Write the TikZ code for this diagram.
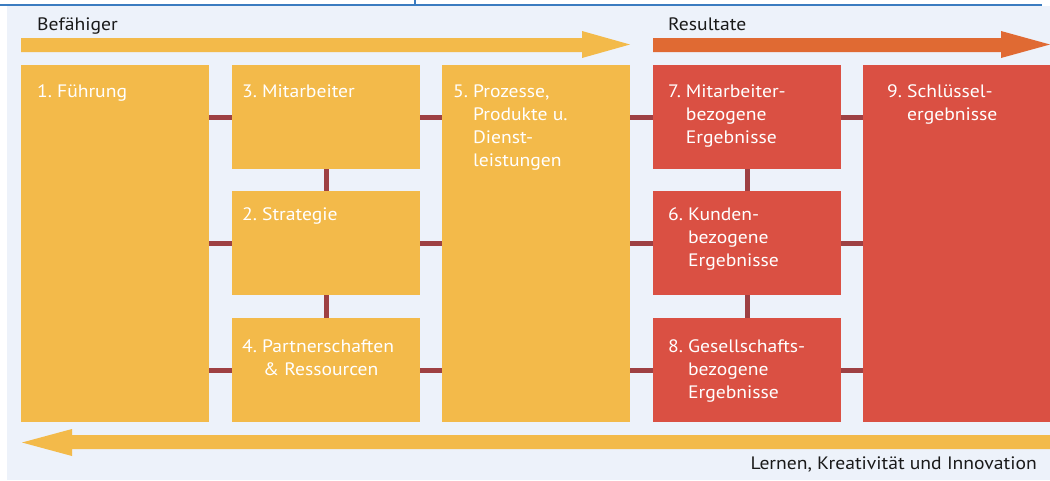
\documentclass[tikz,border=0pt]{standalone}
\usepackage{fontspec}
\setmainfont[FakeStretch=1.09]{PT Sans}
\definecolor{bgblue}{HTML}{EDF2FA}
\definecolor{lineblue}{HTML}{3B7CC0}
\definecolor{ayellow}{HTML}{F3BA4A}
\definecolor{aorange}{HTML}{E06A33}
\definecolor{ared}{HTML}{DA5043}
\definecolor{conncol}{HTML}{9E4043}
\definecolor{darktext}{HTML}{1A1A1A}
\tikzset{
  ybox/.style={fill=ayellow, draw=none, anchor=north west, minimum width=188pt, inner sep=0pt},
  rbox/.style={fill=ared, draw=none, anchor=north west, minimum width=188pt, inner sep=0pt},
  short/.style={minimum height=104pt},
  tall/.style={minimum height=357pt},
  boxtext/.style={anchor=base west, inner sep=0pt, text=white, font=\fontsize{18}{23.3}\selectfont},
  headtext/.style={inner sep=0pt, text=darktext, font=\fontsize{18}{23.3}\selectfont},
  conn/.style={draw=conncol, line width=5pt}
}
\newcommand{\bt}[2]{\begin{tabular}[t]{@{}l@{\hspace{0.28em}}l@{}}#1&#2\end{tabular}}
\begin{document}
\begin{tikzpicture}[x=1pt,y=-1pt]
\useasboundingbox (0,0) rectangle (1050,480);
% background
\fill[white] (0,0) rectangle (1050,480);
\fill[bgblue] (7,6) rectangle (1050,480);
\draw[lineblue, line width=2pt] (0,4.5) -- (1042,4.5);
\draw[lineblue, line width=1.2pt] (415,0) -- (415,5);
% top arrows
\fill[ayellow] (21,38) -- (582,38) -- (582,31) -- (630,44.5) -- (582,58) -- (582,52) -- (21,52) -- cycle;
\fill[aorange] (653,38) -- (1001,38) -- (1001,31) -- (1050,44.5) -- (1001,58) -- (1001,52) -- (653,52) -- cycle;
% bottom arrow
\fill[ayellow] (22,442.5) -- (72,429) -- (72,435) -- (1050,435) -- (1050,449) -- (72,449) -- (72,456) -- cycle;
\node[headtext, anchor=base west] (befa) at (37,30.5) {Befähiger};
\node[headtext, anchor=base west] (resu) at (668,30.5) {Resultate};
\node[headtext, anchor=base east] (lern) at (1037,469) {Lernen, Kreativität und Innovation};
% boxes
\node[ybox, tall] (b1) at (21,65) {};
\node[ybox, short] (b3) at (232,65) {};
\node[ybox, short] (b2) at (232,191) {};
\node[ybox, short] (b4) at (232,318) {};
\node[ybox, tall] (b5) at (442,65) {};
\node[rbox, short] (b7) at (653,65) {};
\node[rbox, short] (b6) at (653,191) {};
\node[rbox, short] (b8) at (653,318) {};
\node[rbox, tall] (b9) at (863,65) {};
% connectors
\foreach \r/\l in {b3/b7, b2/b6, b4/b8}{
  \draw[conn] (\r.west -| b1.east) -- (\r.west);
  \draw[conn] (\r.east) -- (\r.east -| b5.west);
  \draw[conn] (\l.west -| b5.east) -- (\l.west);
  \draw[conn] (\l.east) -- (\l.east -| b9.west);
}
\draw[conn] (b3.south) -- (b2.north);
\draw[conn] (b2.south) -- (b4.north);
\draw[conn] (b7.south) -- (b6.north);
\draw[conn] (b6.south) -- (b8.north);
% texts
\node[boxtext] (t1) at (37,97) {\bt{1.}{Führung}};
\node[boxtext] (t3) at (242,97) {\bt{3.}{Mitarbeiter}};
\node[boxtext] (t2) at (242,220) {\bt{2.}{Strategie}};
\node[boxtext] (t4) at (242,352) {\bt{4.}{Partnerschaften\\&\hspace{1pt}\& Ressourcen}};
\node[boxtext] (t5) at (453,97) {\bt{5.}{Prozesse,\\&Produkte u.\\&Dienst-\\&leistungen}};
\node[boxtext] (t7) at (668,97) {\bt{7.}{Mitarbeiter-\\&bezogene\\&Ergebnisse}};
\node[boxtext] (t6) at (668,220) {\bt{6.}{Kunden-\\&bezogene\\&Ergebnisse}};
\node[boxtext] (t8) at (668,352) {\bt{8.}{Gesellschafts-\\&bezogene\\&Ergebnisse}};
\node[boxtext] (t9) at (887,97) {\bt{9.}{Schlüssel-\\&ergebnisse}};
\end{tikzpicture}
\end{document}
